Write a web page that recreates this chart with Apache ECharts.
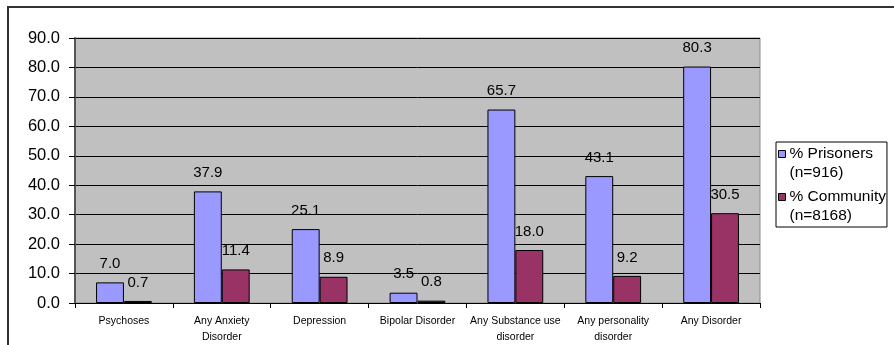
<!DOCTYPE html>
<html>
<head>
<meta charset="utf-8">
<script src="https://cdn.jsdelivr.net/npm/echarts@6/dist/echarts.min.js"></script>
<style>
html,body{margin:0;padding:0;background:#fff;}
#c{width:894px;height:345px;}
</style>
</head>
<body>
<div id="c"></div>
<script>
var categories = ['Psychoses', 'Any Anxiety\nDisorder', 'Depression', 'Bipolar Disorder', 'Any Substance use\ndisorder', 'Any personality\ndisorder', 'Any Disorder'];
var prisoners = [7.0, 37.9, 25.1, 3.5, 65.7, 43.1, 80.3];
var community = [0.7, 11.4, 8.9, 0.8, 18.0, 9.2, 30.5];
var seriesNames = ['% Prisoners\n(n=916)', '% Community\n(n=8168)'];
var yTicks = { min: 0, max: 90, interval: 10 };

var chart = echarts.init(document.getElementById('c'), null, { renderer: 'canvas' });
var font = 'Liberation Sans, Arial, sans-serif';
var labelCfg = {
  show: true, position: 'top', distance: 11, color: '#000', fontSize: 15, fontFamily: font,
  formatter: function (p) { return p.value.toFixed(1); }
};
chart.setOption({
  animation: false,
  backgroundColor: '#fff',
  textStyle: { fontFamily: font },
  grid: { left: 75, top: 38, right: 134, bottom: 38, show: true, backgroundColor: '#C0C0C0', borderColor: '#8c8c8c', borderWidth: 1 },
  graphic: [{
    type: 'rect', silent: true, z: -1,
    shape: { x: 8, y: 7, width: 900, height: 360 },
    style: { fill: 'none', stroke: '#333', lineWidth: 2 }
  }],
  legend: {
    orient: 'vertical', left: 776, top: 142,
    padding: [2, 1, 2, 2], itemGap: 5,
    borderColor: '#000', borderWidth: 1,
    icon: 'path://M0,0h7v7h-7z M0,25h0.01v0.01h-0.01z', itemWidth: 7, itemHeight: 25,
    itemStyle: { borderColor: '#000', borderWidth: 1 },
    textStyle: { fontSize: 15.5, fontFamily: font, color: '#000', lineHeight: 19, padding: [0, 0, 0, -1] },
    data: seriesNames
  },
  xAxis: {
    type: 'category', data: categories,
    axisLine: { lineStyle: { color: '#000', width: 1 } },
    axisTick: { show: true, alignWithLabel: false, length: 5, lineStyle: { color: '#000' } },
    axisLabel: { interval: 0, fontSize: 10.5, color: '#000', lineHeight: 16, margin: 10, fontFamily: font }
  },
  yAxis: {
    type: 'value', min: yTicks.min, max: yTicks.max, interval: yTicks.interval,
    axisLine: { show: true, lineStyle: { color: '#555', width: 2 } },
    axisTick: { show: true, length: 6, lineStyle: { color: '#000' } },
    axisLabel: { fontSize: 16.5, color: '#000', margin: 15, fontFamily: font, formatter: function (v) { return v.toFixed(1); } },
    splitLine: { lineStyle: { color: '#000', width: 1 } }
  },
  series: [{
    name: seriesNames[0], type: 'bar', data: prisoners, barGap: '0%', barCategoryGap: '43%',
    itemStyle: { color: '#9999FF', borderColor: '#000', borderWidth: 1 }, label: labelCfg
  }, {
    name: seriesNames[1], type: 'bar', data: community, barGap: '0%', barCategoryGap: '43%',
    itemStyle: { color: '#993366', borderColor: '#000', borderWidth: 1 }, label: labelCfg
  }]
});
</script>
</body>
</html>
